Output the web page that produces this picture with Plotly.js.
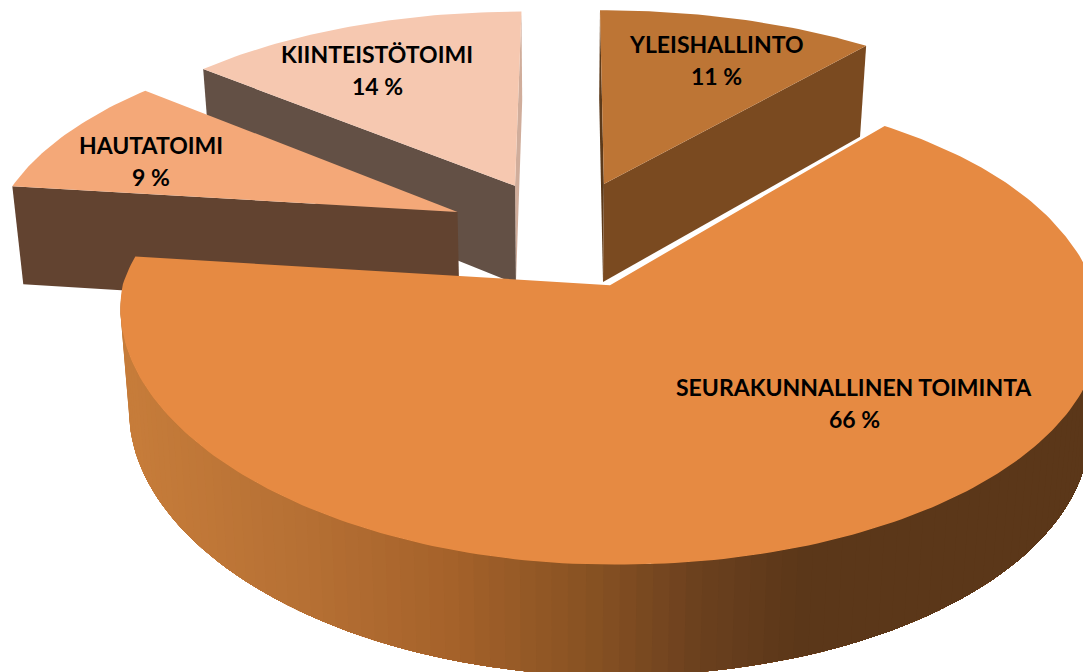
<!DOCTYPE html>
<html><head><meta charset="utf-8">
<script src="https://cdn.plot.ly/plotly-3.0.1.min.js"></script>
<style>html,body{margin:0;padding:0;background:#fff}#chart{width:1083px;height:672px}</style>
</head><body><div id="chart"></div>
<script>
// ---- data ----
const categories = ["YLEISHALLINTO", "SEURAKUNNALLINEN TOIMINTA", "HAUTATOIMI", "KIINTEISTÖTOIMI"];
const shares = [11, 66, 9, 14];
// ---- style ----
const topColors  = ["#bd7535", "#e68a42", "#f4a878", "#f6c8b0"];
const cutColors  = ["#7a4a20", "#5b3719", "#624330", "#635045"];
const sliverColors = ["#5c3a1a", "#5b3719", "#624330", "#d0ad9b"];
const labelCentres = [[716, 60], [854, 403], [151, 161], [377, 70]];
const wallStops = [[130, [198,124,58]], [300, [182,112,52]], [450, [165,98,42]], [600, [133,80,34]], [700, [107,64,30]], [800, [91,55,25]], [1100, [91,55,25]]];
// ---- projection of the tilted pie ----
const cam = {x0: 563, y0: 233, sx: 467, sy: 216, k: 0.16, explode: 0.25, baseScale: 0.98, baseX: 560};
function project(X, Y, low) {
  const w = 1 + cam.k * Y;
  let x = cam.x0 + cam.sx * X / w, y = cam.y0 - cam.sy * Y / w;
  x += (Y > 0 ? 14 : 6) * Math.max(X, 0) * Y + 2.5 * Math.min(1, Math.max(X, 0) / 0.05)
     + 30 * Math.max(-X, 0) * Math.max(-Y - 0.23, 0);
  if (low) { x = cam.baseX + (x - cam.baseX) * cam.baseScale; y += 100 - 9 * Y; }
  return [x, y];
}
const total = shares.reduce((a, b) => a + b, 0);
let acc = 0;
const slices = shares.map((v, i) => {
  const a0 = acc / total * 2 * Math.PI; acc += v;
  const a1 = acc / total * 2 * Math.PI, mid = (a0 + a1) / 2;
  return {i, a0, a1, ox: cam.explode * Math.sin(mid), oy: cam.explode * Math.cos(mid)};
});
const rim = (s, a, low) => project(s.ox + Math.sin(a), s.oy + Math.cos(a), low);
const hub = (s, low) => project(s.ox, s.oy, low);
function poly(pts, color) {
  const closed = pts.concat([pts[0]]);
  return {type: "scatter", mode: "lines", x: closed.map(p => p[0]), y: closed.map(p => p[1]),
    fill: "toself", fillcolor: color, line: {color: color, width: 0},
    hoverinfo: "skip", showlegend: false};
}
function face(s) {
  const pts = [hub(s, false)], n = Math.ceil((s.a1 - s.a0) * 180 / Math.PI);
  for (let j = 0; j <= n; j++) pts.push(rim(s, s.a0 + (s.a1 - s.a0) * j / n, false));
  return poly(pts, topColors[s.i]);
}
function cut(s, a, color) {
  return poly([hub(s, false), rim(s, a, false), rim(s, a, true), hub(s, true)], color);
}
function wallColor(x) {
  for (let j = 1; j < wallStops.length; j++) {
    if (x <= wallStops[j][0]) {
      const p = wallStops[j - 1], q = wallStops[j], t = Math.max(0, (x - p[0]) / (q[0] - p[0]));
      return "rgb(" + p[1].map((c, m) => Math.round(c + (q[1][m] - c) * t)).join(",") + ")";
    }
  }
  return "rgb(91,55,25)";
}
// The rim wall is painted from the left end of the arc rightwards; each band
// covers everything still to its right, so no seams show between bands.
function walls(s) {
  const out = [], n = 110, from = 85 * Math.PI / 180, to = 268 * Math.PI / 180;
  const at = j => to - (to - from) * j / n;
  for (let j = 0; j < n; j++) {
    const up = [], down = [];
    for (let m = j; m <= n; m++) { up.push(rim(s, at(m), false)); down.unshift(rim(s, at(m), true)); }
    out.push(poly(up.concat(down), wallColor((up[0][0] + (up[1] || up[0])[0]) / 2)));
  }
  return out;
}
const [yle, seu, hau, kii] = slices;
const traces = [
  cut(kii, kii.a1, sliverColors[3]), cut(kii, kii.a0, cutColors[3]), face(kii),
  cut(hau, hau.a0, cutColors[2]), face(hau),
  cut(yle, yle.a0, sliverColors[0]), cut(yle, yle.a1, cutColors[0]), face(yle),
  ...walls(seu), face(seu)
];
const annotations = [];
categories.forEach((c, i) => {
  const [x, y] = labelCentres[i];
  const font = {family: "Lato, 'Open Sans', sans-serif", size: 23, color: "#000000", weight: 700};
  annotations.push({x, y: y - 16, xref: "x", yref: "y", text: "<b>" + c + "</b>", showarrow: false, font, xanchor: "center", yanchor: "middle"});
  annotations.push({x, y: y + 16, xref: "x", yref: "y", text: "<b>" + shares[i] + " %</b>", showarrow: false, font, xanchor: "center", yanchor: "middle"});
});
Plotly.newPlot("chart", traces, {
  width: 1083, height: 672, margin: {l: 0, r: 0, t: 0, b: 0},
  paper_bgcolor: "#fff", plot_bgcolor: "#fff", showlegend: false,
  xaxis: {range: [0, 1083], visible: false, fixedrange: true},
  yaxis: {range: [672, 0], visible: false, fixedrange: true},
  annotations
}, {displayModeBar: false, staticPlot: true});
</script></body></html>
